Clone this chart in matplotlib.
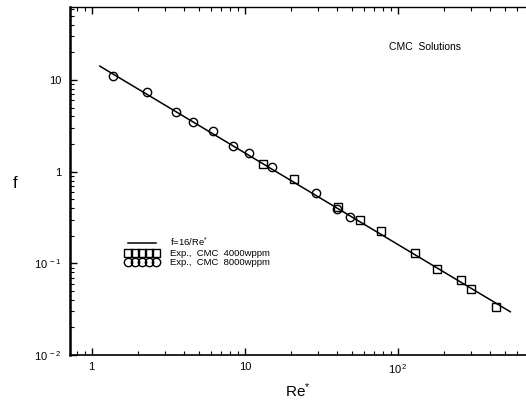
import numpy as np
import matplotlib
matplotlib.use("Agg")
import matplotlib.pyplot as plt
from matplotlib.ticker import FixedLocator, LogLocator, NullFormatter

plt.rcParams['font.family'] = ['Liberation Sans', 'DejaVu Sans']
plt.rcParams['mathtext.default'] = 'regular'

# CMC 8000 wppm (circles)
re_8000 = [1.38, 2.29, 3.57, 4.56, 6.22, 8.32, 10.7, 15.0, 29.0, 40.1, 48.5]
f_8000 = [11.1, 7.35, 4.51, 3.51, 2.78, 1.91, 1.59, 1.11, 0.581, 0.392, 0.318]

# CMC 4000 wppm (squares)
re_4000 = [13.1, 21.0, 40.7, 56.4, 77.3, 129, 179, 256, 298, 434]
f_4000 = [1.22, 0.832, 0.409, 0.294, 0.224, 0.131, 0.0863, 0.0655, 0.0522, 0.0332]

# laminar line f = 16/Re*
re_line = np.array([1.13, 540.0])

x_ticks = [1, 10, 100]
x_labels = ['1', '10', '10$^{\\,2}$']
y_ticks = [0.01, 0.1, 1, 10]
y_labels = ['10$^{\\,-2}$', '10$^{\\,-1}$', '1', '10']

fig = plt.figure(figsize=(5.26, 4.0), dpi=100)
ax = fig.add_axes([70 / 526, 45 / 400, 456 / 526, 348 / 400])

ax.plot(re_line, 16.0 / re_line, color='black', lw=1.1, label='f=16/Re$^{*}$')
ax.plot(re_4000, f_4000, ls='none', marker='s', ms=5.5, mfc='none', mec='black',
        mew=1.0, label='Exp.,  CMC  4000wppm')
ax.plot(re_8000, f_8000, ls='none', marker='o', ms=6, mfc='none', mec='black',
        mew=1.0, label='Exp.,  CMC  8000wppm')

ax.set_xscale('log')
ax.set_yscale('log')
ax.set_xlim(0.722, 684)
ax.set_ylim(0.01, 62.5)

ax.xaxis.set_major_locator(FixedLocator(x_ticks))
ax.set_xticklabels(x_labels)
ax.yaxis.set_major_locator(FixedLocator(y_ticks))
ax.set_yticklabels(y_labels)
ax.xaxis.set_minor_locator(LogLocator(base=10, subs=np.arange(2, 10)))
ax.yaxis.set_minor_locator(LogLocator(base=10, subs=np.arange(2, 10)))
ax.xaxis.set_minor_formatter(NullFormatter())
ax.yaxis.set_minor_formatter(NullFormatter())

ax.tick_params(which='both', direction='in', top=True, right=False, labelsize=8)
ax.tick_params(which='major', length=5, width=1.0)
ax.tick_params(which='minor', length=3, width=0.8)
ax.tick_params(axis='x', pad=5)
ax.tick_params(axis='y', pad=6)

ax.spines['right'].set_visible(False)
ax.spines['left'].set_linewidth(1.8)
ax.spines['bottom'].set_linewidth(1.2)
ax.spines['top'].set_linewidth(1.0)

ax.set_xlabel('Re$^{*}$', fontsize=11, labelpad=4)
ax.set_ylabel('f', fontsize=12, rotation=0, labelpad=18)
ax.yaxis.set_label_coords(-0.12, 0.47)

ax.text(0.70, 0.875, 'CMC  Solutions', transform=ax.transAxes, fontsize=7.5)

ax.legend(loc='upper left', bbox_to_anchor=(0.11, 0.355), frameon=False,
          fontsize=6.8, numpoints=5, handlelength=3.6, handletextpad=1.2,
          labelspacing=0.0, borderpad=0, markerscale=1.0)

fig.savefig('out.png', dpi=100)
